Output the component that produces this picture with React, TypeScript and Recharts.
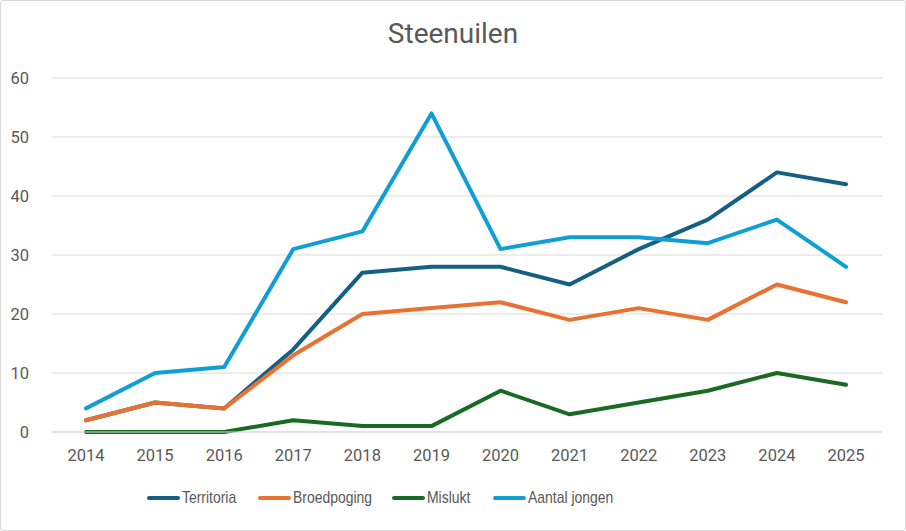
import React from 'react';
import { LineChart, Line, XAxis, YAxis, CartesianGrid } from 'recharts';

const years = ['2014','2015','2016','2017','2018','2019','2020','2021','2022','2023','2024','2025'];
const territoria = [2, 5, 4, 14, 27, 28, 28, 25, 31, 36, 44, 42];
const broedpoging = [2, 5, 4, 13, 20, 21, 22, 19, 21, 19, 25, 22];
const mislukt = [0, 0, 0, 2, 1, 1, 7, 3, 5, 7, 10, 8];
const aantalJongen = [4, 10, 11, 31, 34, 54, 31, 33, 33, 32, 36, 28];
const yTicks = [0, 10, 20, 30, 40, 50, 60];

const seriesDefs = [
  { key: 'territoria', name: 'Territoria', color: '#156082', left: 147 },
  { key: 'broedpoging', name: 'Broedpoging', color: '#E97132', left: 258 },
  { key: 'mislukt', name: 'Mislukt', color: '#196B24', left: 392 },
  { key: 'aantalJongen', name: 'Aantal jongen', color: '#0F9ED5', left: 493 },
];

const data = years.map((y, i) => ({
  year: y,
  territoria: territoria[i],
  broedpoging: broedpoging[i],
  mislukt: mislukt[i],
  aantalJongen: aantalJongen[i],
}));

const FONT = 'Roboto, "Open Sans", "Liberation Sans", sans-serif';
const LEGEND_FONT = '"Liberation Sans", Arial, sans-serif';
const TXT = '#595959';

export default function App() {
  return (
    <div style={{ position: 'fixed', left: 0, top: 0, width: 906, height: 531, background: '#fff', fontFamily: FONT }}>
      <div style={{ position: 'absolute', inset: 0, border: '1px solid #d9d9d9', borderRadius: 3, boxSizing: 'border-box' }} />
      <div style={{ position: 'absolute', left: 0, width: 906, top: 17, textAlign: 'center', fontSize: 28, color: TXT, lineHeight: '34px' }}>
        Steenuilen
      </div>
      <LineChart width={906} height={531} data={data} margin={{ top: 78, right: 24, bottom: 69, left: 0 }}>
        <CartesianGrid vertical={false} stroke="#d9d9d9" strokeWidth={1} />
        <XAxis
          dataKey="year"
          padding={{ left: 34, right: 36 }}
          tickLine={false}
          axisLine={{ stroke: '#d9d9d9' }}
          tick={{ fill: TXT, fontSize: 16.5, fontFamily: FONT }}
          tickMargin={11}
          height={30}
        />
        <YAxis
          domain={[0, 60]}
          ticks={yTicks}
          width={52}
          tickLine={false}
          axisLine={false}
          tick={{ fill: TXT, fontSize: 16.5, fontFamily: FONT }}
          tickMargin={17}
        />
        {seriesDefs.map((s) => (
          <Line
            key={s.key}
            type="linear"
            dataKey={s.key}
            name={s.name}
            stroke={s.color}
            strokeWidth={4}
            strokeLinecap="round"
            strokeLinejoin="round"
            dot={false}
            activeDot={false}
            isAnimationActive={false}
          />
        ))}
      </LineChart>
      {seriesDefs.map((s) => (
        <div key={s.key} style={{ position: 'absolute', left: s.left, top: 486, height: 24, display: 'flex', alignItems: 'center' }}>
          <div style={{ width: 33, height: 4, borderRadius: 2, background: s.color }} />
          <span
            style={{
              display: 'inline-block',
              marginLeft: 2,
              fontSize: 17,
              fontFamily: LEGEND_FONT,
              color: TXT,
              whiteSpace: 'nowrap',
              transform: 'scaleX(0.82)',
              transformOrigin: 'left center',
            }}
          >
            {s.name}
          </span>
        </div>
      ))}
    </div>
  );
}
